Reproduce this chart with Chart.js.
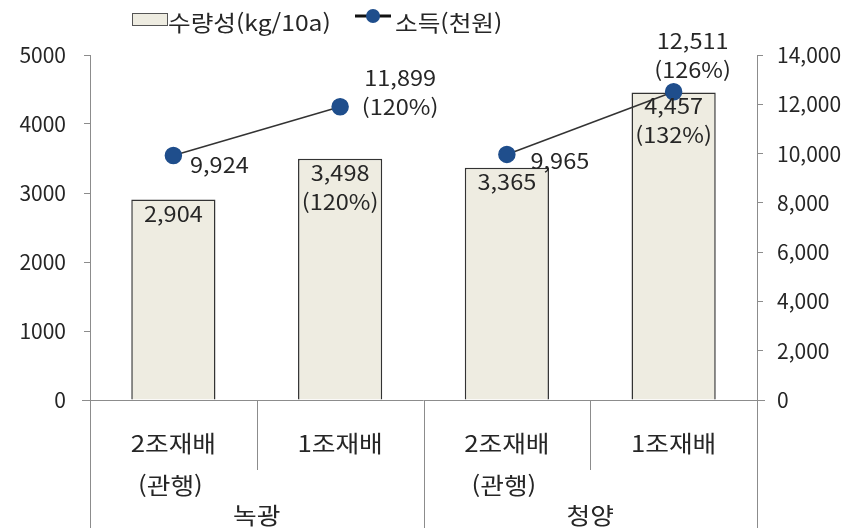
<!DOCTYPE html>
<html lang="ko">
<head>
<meta charset="UTF-8">
<script src="https://cdn.jsdelivr.net/npm/chart.js@4.4.0/dist/chart.umd.min.js"></script>
<style>
    html, body { margin: 0; padding: 0; background: #fff; }
    #wrap { width: 857px; height: 528px; }
</style>
</head>
<body>
<div id="wrap"><canvas id="yieldChart" width="857" height="528"></canvas></div>
<script>
// Данные графика
const categories = ['2조재배', '1조재배', '2조재배', '1조재배'];
const subLabels = ['(관행)', '', '(관행)', ''];
const groups = ['녹광', '청양'];
const yieldValues = [2904, 3498, 3365, 4457];
const yieldPct = ['', '(120%)', '', '(132%)'];
const incomeValues = [9924, 11899, 9965, 12511];
const incomePct = ['', '(120%)', '', '(126%)'];

const FONT = "'Noto Sans CJK KR', 'Noto Sans', sans-serif";
const TEXT = '#262626';
const AXIS = '#8c8c8c';
const BAR_FILL = '#EEECE1';
const DOT = '#1F4E8C';
const STRETCH = 1.12;

// Смещения подписей линии относительно точки (dx, dy первой строки)
const incomeLabelPos = [
    { dx: 46, dy: 10 },
    { dx: 60, dy: -29 },
    { dx: 53, dy: 7 },
    { dx: 19, dy: -51 }
];

const fmt = v => v.toLocaleString('en-US');

// Текст с лёгким растяжением по горизонтали
function drawText(ctx, text, x, y) {
    ctx.save();
    ctx.translate(x, y);
    ctx.scale(STRETCH, 1);
    ctx.fillText(text, 0, 0);
    ctx.restore();
}

// Плагин: легенда, подписи оси X, разделители, подписи данных
const decorPlugin = {
    id: 'decor',
    afterDraw(chart) {
        const ctx = chart.ctx;
        const area = chart.chartArea;
        const xs = chart.scales.x;
        ctx.save();

        // продление нулевой линии и разделители категорий
        ctx.strokeStyle = AXIS;
        ctx.lineWidth = 1;
        ctx.beginPath();
        ctx.moveTo(area.left - 8, area.bottom + 0.5);
        ctx.lineTo(area.right + 8, area.bottom + 0.5);
        const step = (area.right - area.left) / categories.length;
        for (let i = 0; i <= categories.length; i++) {
            const x = Math.round(area.left + step * i) + 0.5;
            const end = (i % 2 === 0) ? chart.height : area.bottom + 70;
            ctx.moveTo(x, area.bottom);
            ctx.lineTo(x, end);
        }
        ctx.stroke();

        // подписи категорий
        ctx.fillStyle = TEXT;
        ctx.textAlign = 'center';
        ctx.textBaseline = 'middle';
        ctx.font = '23px ' + FONT;
        categories.forEach((c, i) => {
            const x = xs.getPixelForValue(i);
            drawText(ctx, c, x, area.bottom + 43);
            if (subLabels[i]) drawText(ctx, subLabels[i], x - 3, area.bottom + 85);
        });
        groups.forEach((g, i) => {
            const x = area.left + step * (i * 2 + 1);
            drawText(ctx, g, x, area.bottom + 115);
        });

        // подписи столбцов
        ctx.font = '21px ' + FONT;
        const barMeta = chart.getDatasetMeta(1);
        barMeta.data.forEach((bar, i) => {
            drawText(ctx, fmt(yieldValues[i]), bar.x, bar.y + 14);
            if (yieldPct[i]) drawText(ctx, yieldPct[i], bar.x, bar.y + 43);
        });

        // подписи линии
        const lineMeta = chart.getDatasetMeta(0);
        lineMeta.data.forEach((pt, i) => {
            const p = incomeLabelPos[i];
            drawText(ctx, fmt(incomeValues[i]), pt.x + p.dx, pt.y + p.dy);
            if (incomePct[i]) drawText(ctx, incomePct[i], pt.x + p.dx, pt.y + p.dy + 29);
        });

        // легенда
        ctx.fillStyle = BAR_FILL;
        ctx.strokeStyle = '#555';
        ctx.fillRect(132, 13, 35, 12);
        ctx.strokeRect(132.5, 13.5, 35, 12);
        ctx.fillStyle = TEXT;
        ctx.textAlign = 'left';
        ctx.font = '22px ' + FONT;
        drawText(ctx, '수량성(kg/10a)', 168, 23);
        ctx.strokeStyle = '#111';
        ctx.lineWidth = 3;
        ctx.beginPath();
        ctx.moveTo(355, 16);
        ctx.lineTo(391, 16);
        ctx.stroke();
        ctx.fillStyle = DOT;
        ctx.beginPath();
        ctx.arc(373, 16, 7, 0, Math.PI * 2);
        ctx.fill();
        ctx.fillStyle = TEXT;
        drawText(ctx, '소득(천원)', 395, 23);

        ctx.restore();
    }
};

function initializeChart() {
    const chartCtx = document.getElementById('yieldChart').getContext('2d');
    new Chart(chartCtx, {
        data: {
            labels: categories,
            datasets: [
                {
                    type: 'line',
                    label: '소득(천원)',
                    data: incomeValues,
                    yAxisID: 'y1',
                    order: 0,
                    borderColor: '#333',
                    borderWidth: 1.5,
                    pointRadius: 8,
                    pointBackgroundColor: DOT,
                    pointBorderColor: DOT,
                    segment: {
                        // линия соединяет точки только внутри сорта
                        borderColor: c => c.p0DataIndex === 1 ? 'rgba(0,0,0,0)' : '#333'
                    }
                },
                {
                    type: 'bar',
                    label: '수량성(kg/10a)',
                    data: yieldValues,
                    yAxisID: 'y',
                    order: 1,
                    backgroundColor: BAR_FILL,
                    borderColor: '#333',
                    borderWidth: 1.5,
                    categoryPercentage: 1,
                    barPercentage: 0.505
                }
            ]
        },
        options: {
            responsive: false,
            animation: false,
            layout: { padding: { top: 55, left: 0, right: 0, bottom: 0 } },
            plugins: {
                legend: { display: false },
                tooltip: { enabled: false }
            },
            scales: {
                x: {
                    grid: { display: false },
                    border: { display: false },
                    ticks: { display: false },
                    afterFit: s => { s.height = 128; }
                },
                y: {
                    position: 'left',
                    min: 0,
                    max: 5000,
                    ticks: { stepSize: 1000, color: TEXT, font: { family: FONT, size: 21 }, padding: 18, callback: v => String(v) },
                    grid: { drawOnChartArea: false, color: AXIS, tickLength: 6 },
                    border: { color: AXIS },
                    afterFit: s => { s.width = 90; }
                },
                y1: {
                    position: 'right',
                    min: 0,
                    max: 14000,
                    ticks: { stepSize: 2000, color: TEXT, font: { family: FONT, size: 21 }, padding: 14, callback: v => fmt(v) },
                    grid: { drawOnChartArea: false, color: AXIS, tickLength: 6 },
                    border: { color: AXIS },
                    afterFit: s => { s.width = 100; }
                }
            }
        },
        plugins: [decorPlugin]
    });
}

document.addEventListener('DOMContentLoaded', initializeChart);
</script>
</body>
</html>
